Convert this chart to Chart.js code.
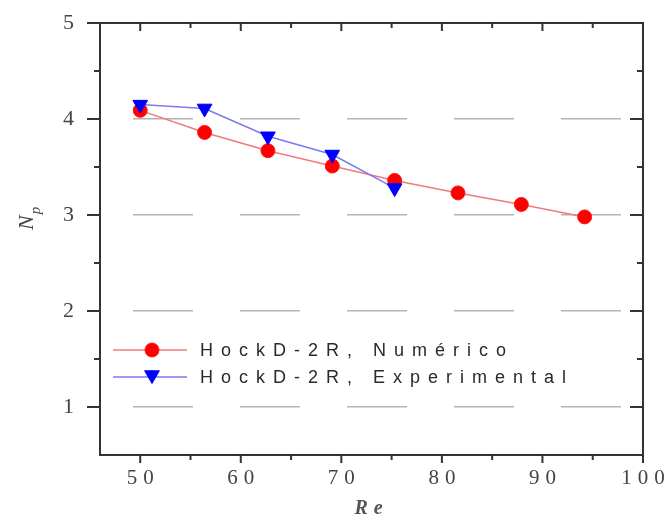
<!DOCTYPE html>
<html>
<head>
<meta charset="utf-8">
<script src="https://cdn.jsdelivr.net/npm/chart.js@4.4.1/dist/chart.umd.min.js"></script>
<style>
  html, body { margin: 0; padding: 0; background: #fff; }
  #chart { display: block; }
</style>
</head>
<body>
<canvas id="chart" width="667" height="517"></canvas>
<script>
// values
const reNumerico = [50.0, 56.4, 62.7, 69.1, 75.3, 81.6, 87.9, 94.2];
const npNumerico = [4.09, 3.86, 3.67, 3.51, 3.36, 3.23, 3.11, 2.98];
const reExperimental = [50.0, 56.4, 62.7, 69.1, 75.3];
const npExperimental = [4.15, 4.11, 3.82, 3.63, 3.28];
const seriesNames = ["HockD-2R, Numérico", "HockD-2R, Experimental"];
const xTicks = [50, 60, 70, 80, 90, 100];
const yTicks = [1, 2, 3, 4, 5];
const xMinor = [55, 65, 75, 85, 95];
const yMinor = [1.5, 2.5, 3.5, 4.5];

function toPoints(xs, ys) {
	return xs.map((x, i) => ({ x: x, y: ys[i] }));
}

const framePlugin = {
	id: "frame",
	beforeDraw(chart) {
		chart.ctx.letterSpacing = "6px";
	},
	afterDraw(chart) {
		const ctx = chart.ctx;
		const a = chart.chartArea;
		const xs = chart.scales.x;
		const ys = chart.scales.y;
		ctx.save();
		ctx.letterSpacing = "0px";
		ctx.setLineDash([]);
		ctx.strokeStyle = "#333";
		ctx.lineWidth = 2;
		ctx.strokeRect(a.left, a.top, a.right - a.left, a.bottom - a.top);

		// ticks: bottom/left outside, top/right inside
		ctx.beginPath();
		const xTick = (v, len) => {
			const px = xs.getPixelForValue(v);
			ctx.moveTo(px, a.bottom); ctx.lineTo(px, a.bottom + len);
			ctx.moveTo(px, a.top); ctx.lineTo(px, a.top + len);
		};
		const yTick = (v, len) => {
			const py = ys.getPixelForValue(v);
			ctx.moveTo(a.left - len, py); ctx.lineTo(a.left, py);
			ctx.moveTo(a.right - len, py); ctx.lineTo(a.right, py);
		};
		xTicks.forEach(v => xTick(v, 8));
		xMinor.forEach(v => xTick(v, 5));
		yTicks.forEach(v => yTick(v, 13));
		yMinor.forEach(v => yTick(v, 6));
		ctx.stroke();

		// y axis title N_p
		ctx.fillStyle = "#444";
		ctx.translate(33, 230);
		ctx.rotate(-Math.PI / 2);
		ctx.textBaseline = "alphabetic";
		ctx.font = "italic 22px 'Liberation Serif'";
		ctx.fillText("N", 0, 0);
		const w = ctx.measureText("N").width;
		ctx.font = "italic 15px 'Liberation Serif'";
		ctx.fillText("p", w + 1, 7);
		ctx.restore();

		// legend inside the plot
		ctx.save();
		ctx.letterSpacing = "8px";
		ctx.font = "18px 'Liberation Sans'";
		ctx.textBaseline = "middle";
		const rows = [350, 377];
		chart.data.datasets.forEach((ds, i) => {
			const y = rows[i];
			const x0 = a.left + 13;
			ctx.strokeStyle = ds.borderColor;
			ctx.lineWidth = ds.borderWidth;
			ctx.beginPath();
			ctx.moveTo(x0, y);
			ctx.lineTo(x0 + 74, y);
			ctx.stroke();
			ctx.fillStyle = ds.pointBackgroundColor;
			ctx.strokeStyle = ds.pointBorderColor;
			ctx.lineWidth = ds.pointBorderWidth;
			Chart.helpers.drawPoint(ctx, {
				pointStyle: ds.pointStyle,
				rotation: ds.pointRotation || 0,
				radius: ds.pointRadius,
				borderWidth: ds.pointBorderWidth
			}, x0 + 39, ds.pointStyle === "triangle" ? y - 2 : y);
			ctx.fillStyle = "#2a2a2a";
			ctx.fillText(ds.label, a.left + 100, y + 1);
		});
		ctx.restore();
	}
};

new Chart(document.getElementById("chart"), {
	type: "scatter",
	data: {
		datasets: [
			{
				label: seriesNames[0],
				data: toPoints(reNumerico, npNumerico),
				showLine: true,
				borderColor: "#f07a7a",
				borderWidth: 1.5,
				pointStyle: "circle",
				pointRadius: 7,
				pointBackgroundColor: "#ff0000",
				pointBorderColor: "#ff1a1a",
				pointBorderWidth: 1,
				order: 1,
			},
			{
				label: seriesNames[1],
				data: toPoints(reExperimental, npExperimental),
				showLine: true,
				borderColor: "#7a7af0",
				borderWidth: 1.5,
				pointStyle: "triangle",
				pointRotation: 180,
				pointRadius: 8.5,
				pointBackgroundColor: "#0000ff",
				pointBorderColor: "#0000ee",
				pointBorderWidth: 1,
				order: 0,
			},
		],
	},
	options: {
		responsive: false,
		animation: false,
		devicePixelRatio: 1,
		events: [],
		layout: { padding: { top: 23, right: 24, left: 0, bottom: 0 } },
		plugins: { legend: { display: false }, tooltip: { enabled: false } },
		scales: {
			x: {
				type: "linear",
				min: 46,
				max: 100,
				afterBuildTicks: s => { s.ticks = xTicks.map(v => ({ value: v })); },
				afterFit: s => { s.height = 62; s.paddingLeft = 0; s.paddingRight = 0; },
				grid: { display: false, drawTicks: false },
				border: { display: false },
				ticks: {
					autoSkip: false,
					maxRotation: 0,
					padding: 11,
					labelOffset: 3,
					color: "#444",
					font: { family: "'Liberation Serif'", size: 21 },
				},
				title: {
					display: true,
					text: "Re",
					color: "#555",
					padding: 0,
					font: { family: "'Liberation Serif'", size: 20, style: "italic", weight: "bold", lineHeight: 0.8 },
				},
			},
			y: {
				type: "linear",
				min: 0.5,
				max: 5,
				afterBuildTicks: s => { s.ticks = yTicks.map(v => ({ value: v })); },
				afterFit: s => { s.width = 100; s.paddingTop = 0; s.paddingBottom = 0; },
				grid: {
					color: c => (c.tick && c.tick.value < 5 ? "#b4b4b4" : "rgba(0,0,0,0)"),
					lineWidth: 1.5,
					drawTicks: false,
				},
				border: { display: false, dash: [60, 47], dashOffset: 74 },
				ticks: {
					padding: 20,
					color: "#444",
					font: { family: "'Liberation Serif'", size: 22 },
				},
			},
		},
	},
	plugins: [framePlugin],
});
</script>
</body>
</html>
